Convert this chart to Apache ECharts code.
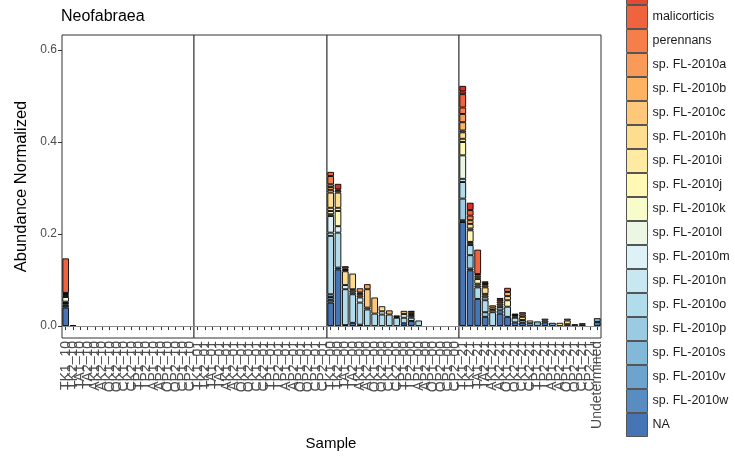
<!DOCTYPE html>
<html><head><meta charset="utf-8">
<script src="https://cdn.jsdelivr.net/npm/echarts@6/dist/echarts.min.js"></script>
<style>html,body{margin:0;padding:0;background:#fff}#c{width:735px;height:456px}</style>
</head><body><div id="c"></div>
<script>
// ---- tick labels (one array per facet panel) ----
const samplesP1 = ['TK1_10','TK2_10','TA1_10','TA2_10','AK1_10','AK2_10','OK1_10','OK2_10','CK1_10','CK2_10','TP1_10','TP2_10','AP1_10','AP2_10','OP1_10','OP2_10','CP1_10','CP2_10'];
const samplesP2 = ['TK1_01','TK2_01','TA1_01','TA2_01','AK1_01','AK2_01','OK1_01','OK2_01','CK1_01','CK2_01','TP1_01','TP2_01','AP1_01','AP2_01','OP1_01','OP2_01','CP1_01','CP2_01'];
const samplesP3 = ['TK1_00','TK2_00','TA1_00','TA2_00','AK1_00','AK2_00','OK1_00','OK2_00','CK1_00','CK2_00','TP1_00','TP2_00','AP1_00','AP2_00','OP1_00','OP2_00','CP1_00','CP2_00'];
const samplesP4 = ['TK1_21','TK2_21','TA1_21','TA2_21','AK1_21','AK2_21','OK1_21','OK2_21','CK1_21','CK2_21','TP1_21','TP2_21','AP1_21','AP2_21','OP1_21','OP2_21','CP1_21','CP2_21','Undetermined'];
const yTicks = [0, 0.2, 0.4, 0.6];

// ---- species (stack order bottom -> top) ----
const speciesNames = ['NA','sp. FL-2010w','sp. FL-2010v','sp. FL-2010s','sp. FL-2010p','sp. FL-2010o','sp. FL-2010n','sp. FL-2010m','sp. FL-2010l','sp. FL-2010k','sp. FL-2010j','sp. FL-2010i','sp. FL-2010h','sp. FL-2010c','sp. FL-2010b','sp. FL-2010a','perennans','malicorticis','kienholzii','actinidiae'];
const speciesColors = ['#4575B4','#598DC2','#6DA4CE','#83B9D8','#9ACBE2','#B1DCEB','#C7E7F1','#DDF2F7','#EBF7E3','#F8FCCB','#FFF9B5','#FEEBA1','#FEDE8E','#FEC779','#FDB361','#FA9A58','#F67E4B','#EF633F','#E34A33','#D73027'];

// ---- values per species: panel1(18) | panel2(18) | panel3(18) | panel4(19) ----
const vNA = [.040,.002,0,0,0,0,0,0,0,0,0,0,0,0,0,0,0,0,
 0,0,0,0,0,0,0,0,0,0,0,0,0,0,0,0,0,0,
 .051,.123,.002,.007,.003,0,0,0,0,0,.006,.011,0,0,0,0,0,0,
 .226,.121,.059,.020,0,.027,.020,.008,.007,0,0,.008,0,0,0,.004,0,0,.009];
const vW = [.004,0,0,0,0,0,0,0,0,0,0,0,0,0,0,0,0,0,
 0,0,0,0,0,0,0,0,0,0,0,0,0,0,0,0,0,0,
 .006,.004,0,0,0,0,0,0,0,0,0,0,0,0,0,0,0,0,
 .004,.004,0,0,0,0,0,0,0,0,0,0,0,0,0,0,0,0,0];
const vV = [.003,0,0,0,0,0,0,0,0,0,0,0,0,0,0,0,0,0,
 0,0,0,0,0,0,0,0,0,0,0,0,0,0,0,0,0,0,
 .006,0,0,0,0,0,0,0,0,0,0,0,0,0,0,0,0,0,
 0,0,0,0,0,.007,0,0,.006,0,0,0,.007,0,0,0,0,0,0];
const vS = [.003,0,0,0,0,0,0,0,0,0,0,0,0,0,0,0,0,0,
 0,0,0,0,0,0,0,0,0,0,0,0,0,0,0,0,0,0,
 .006,0,0,0,0,0,0,0,0,0,0,0,0,0,0,0,0,0,
 0,0,0,0,0,.007,0,0,0,.006,.010,0,0,0,0,0,0,0,.008];
const vP = [.003,0,0,0,0,0,0,0,0,0,0,0,0,0,0,0,0,0,
 0,0,0,0,0,0,0,0,0,0,0,0,0,0,0,0,0,0,
 0,0,0,0,0,0,0,0,0,0,0,0,0,0,0,0,0,0,
 .047,.029,0,.010,0,0,0,0,0,0,0,0,0,0,0,0,0,0,0];
const vO = [0,0,0,0,0,0,0,0,0,0,0,0,0,0,0,0,0,0,
 0,0,0,0,0,0,0,0,0,0,0,0,0,0,0,0,0,0,
 .127,.076,.078,.062,.048,.036,.027,.025,.025,.018,.012,.007,.012,0,0,0,0,0,
 .036,.022,.025,.026,.030,0,.022,.010,0,0,0,0,0,0,0,0,0,0,0];
const vN = [0,0,0,0,0,0,0,0,0,0,0,0,0,0,0,0,0,0,
 0,0,0,0,0,0,0,0,0,0,0,0,0,0,0,0,0,0,
 .007,0,0,.004,0,0,0,0,0,0,0,0,0,0,0,0,0,0,
 .007,.004,0,0,0,0,0,0,0,0,0,0,0,0,0,0,0,0,0];
const vM = [0,0,0,0,0,0,0,0,0,0,0,0,0,0,0,0,0,0,
 0,0,0,0,0,0,0,0,0,0,0,0,0,0,0,0,0,0,
 .036,.014,.009,.004,.011,.004,0,.007,0,0,.008,0,0,0,0,0,0,0,
 0,0,.004,.006,0,0,0,0,0,0,0,0,0,0,0,0,0,0,0];
const vL = [.010,0,0,0,0,0,0,0,0,0,0,0,0,0,0,0,0,0,
 0,0,0,0,0,0,0,0,0,0,0,0,0,0,0,0,0,0,
 0,0,0,0,0,0,0,0,0,0,0,0,0,0,0,0,0,0,
 .051,0,0,0,0,0,0,0,0,0,0,0,0,0,0,0,0,0,0];
const vK = [.003,0,0,0,0,0,0,0,0,0,0,0,0,0,0,0,0,0,
 0,0,0,0,0,0,0,0,0,0,0,0,0,0,0,0,0,0,
 .004,0,0,.003,0,0,0,0,0,.002,0,.004,0,0,0,0,0,0,
 0,.003,.004,0,0,.004,0,.003,0,0,0,.004,0,0,.004,0,.003,0,0];
const vJ = [0,0,0,0,0,0,0,0,0,0,0,0,0,0,0,0,0,0,
 0,0,0,0,0,0,0,0,0,0,0,0,0,0,0,0,0,0,
 .007,.033,0,0,0,0,0,0,0,0,0,0,0,0,0,0,0,0,
 .029,.025,.010,.004,.005,0,.014,0,0,0,0,0,0,0,0,0,0,0,0];
const vI = [0,0,0,0,0,0,0,0,0,0,0,0,0,0,0,0,0,0,
 0,0,0,0,0,0,0,0,0,0,0,0,0,0,0,0,0,0,
 .007,.007,0,0,0,0,0,0,0,0,0,0,0,0,0,0,0,0,
 .007,.004,.004,.004,0,0,0,0,0,0,0,0,0,0,0,0,0,0,0];
const vH = [.002,0,0,0,0,0,0,0,0,0,0,0,0,0,0,0,0,0,
 0,0,0,0,0,0,0,0,0,0,0,0,0,0,0,0,0,0,
 .033,.033,.030,.034,.004,0,0,.011,0,.003,0,.004,0,0,0,0,0,0,
 .014,.010,0,.014,.005,0,.009,0,.007,.006,0,0,0,.007,.008,0,0,0,0];
const vC = [.002,0,0,0,0,0,0,0,0,0,0,0,0,0,0,0,0,0,
 0,0,0,0,0,0,0,0,0,0,0,0,0,0,0,0,0,0,
 .006,0,.003,0,.004,.040,.035,0,0,0,0,.004,0,0,0,0,0,0,
 .004,0,.004,.004,0,.004,0,.003,0,0,0,.004,0,0,.004,0,.003,0,0];
const vB = [.002,0,0,0,0,0,0,0,0,0,0,0,0,0,0,0,0,0,
 0,0,0,0,0,0,0,0,0,0,0,0,0,0,0,0,0,0,
 .006,.004,.003,0,.003,0,0,0,.009,0,.007,.003,0,0,0,0,0,0,
 .018,.008,.003,.003,.005,.004,.009,.003,0,0,0,0,0,0,0,0,0,0,0];
const vA = [0,0,0,0,0,0,0,0,0,0,0,0,0,0,0,0,0,0,
 0,0,0,0,0,0,0,0,0,0,0,0,0,0,0,0,0,0,
 .006,.003,0,0,.009,.011,0,0,0,0,0,0,0,0,0,0,0,0,
 .018,0,0,.003,0,0,0,0,.005,0,0,0,0,0,0,0,0,0,0];
const vPerennans = [0,0,0,0,0,0,0,0,0,0,0,0,0,0,0,0,0,0,
 0,0,0,0,0,0,0,0,0,0,0,0,0,0,0,0,0,0,
 .018,0,0,0,0,0,0,0,0,0,0,0,0,0,0,0,0,0,
 .014,.010,0,.003,0,0,0,0,0,0,0,0,0,0,0,0,0,0,0];
const vMalicorticis = [.075,0,0,0,0,0,0,0,0,0,0,0,0,0,0,0,0,0,
 0,0,0,0,0,0,0,0,0,0,0,0,0,0,0,0,0,0,
 .009,0,0,0,0,0,0,0,0,0,0,0,0,0,0,0,0,0,
 .029,.012,.053,0,0,.004,.009,0,.005,0,0,0,0,0,0,0,0,0,0];
const vKienholzii = [0,0,0,0,0,0,0,0,0,0,0,0,0,0,0,0,0,0,
 0,0,0,0,0,0,0,0,0,0,0,0,0,0,0,0,0,0,
 0,0,0,0,0,0,0,0,0,0,0,0,0,0,0,0,0,0,
 .006,0,0,0,0,0,0,0,0,0,0,0,0,0,0,0,0,0,0];
const vActinidiae = [0,0,0,0,0,0,0,0,0,0,0,0,0,0,0,0,0,0,
 0,0,0,0,0,0,0,0,0,0,0,0,0,0,0,0,0,0,
 0,.012,.005,0,0,0,0,0,0,0,0,0,0,0,0,0,0,0,
 .012,.016,0,0,0,.004,0,0,0,0,0,0,0,0,0,0,0,0,0];

const speciesValues = [vNA,vW,vV,vS,vP,vO,vN,vM,vL,vK,vJ,vI,vH,vC,vB,vA,vPerennans,vMalicorticis,vKienholzii,vActinidiae];
const panels = [samplesP1, samplesP2, samplesP3, samplesP4];

const total = panels.reduce((s,p)=>s+p.length,0);
speciesValues.forEach((a,i)=>{ if(a.length!==total) throw new Error('bad length '+speciesNames[i]+' '+a.length); });

const gridBoxes = [{left:62,width:132},{left:194,width:133},{left:327,width:132},{left:459,width:142}];
const FONT = 'Liberation Sans, Arial, sans-serif';

const grids=[], xAxes=[], yAxes=[], series=[];
let offset = 0;
panels.forEach((cats, g) => {
  grids.push({left:gridBoxes[g].left, width:gridBoxes[g].width, top:35, height:303, show:true, borderColor:'#333', borderWidth:1, backgroundColor:'#fff'});
  xAxes.push({type:'category', gridIndex:g, data:cats,
    axisLine:{show:false},
    axisTick:{show:true, alignWithLabel:true, length:4, lineStyle:{color:'#333'}},
    axisLabel:{interval:0, rotate:90, fontSize:14, color:'#4d4d4d', margin:3, fontFamily:FONT},
    splitLine:{show:false}});
  const y = {type:'value', gridIndex:g, min:-0.026, max:0.6326, splitLine:{show:false}, axisLine:{show:false}};
  if (g===0) {
    y.axisTick = {show:true, length:4, lineStyle:{color:'#333'}, customValues:yTicks};
    y.axisLabel = {show:true, color:'#4d4d4d', fontSize:12, margin:5, fontFamily:FONT, customValues:yTicks, formatter:v=>v.toFixed(1)};
    y.name = 'Abundance Normalized'; y.nameLocation='middle'; y.nameGap=32;
    y.nameTextStyle = {fontSize:16.5, color:'#000', fontFamily:FONT};
  } else {
    y.axisTick = {show:false}; y.axisLabel = {show:false};
  }
  yAxes.push(y);
  speciesNames.forEach((name, s) => {
    const vals = speciesValues[s].slice(offset, offset+cats.length).map(v => v === 0 ? '-' : v);
    const ser = {type:'bar', name, xAxisIndex:g, yAxisIndex:g, stack:'p'+g, data:vals,
      barCategoryGap:'10%', itemStyle:{color:speciesColors[s], borderColor:'#000', borderWidth:0.9}};
    if (s===0) ser.markLine = {silent:true, symbol:'none', label:{show:false}, animation:false,
      lineStyle:{color:'#8c8c8c', width:1, type:'solid'}, data:[{yAxis:0}]};
    series.push(ser);
  });
  offset += cats.length;
});

const chart = echarts.init(document.getElementById('c'), null, {renderer:'canvas'});
chart.setOption({
  animation:false,
  backgroundColor:'#fff',
  textStyle:{fontFamily:FONT},
  title:[
    {text:'Neofabraea', left:61, top:9, padding:0, textStyle:{fontSize:16, fontWeight:'normal', color:'#000', fontFamily:FONT}},
    {text:'Sample', left:331, top:436, padding:0, textAlign:'center', textStyle:{fontSize:15, fontWeight:'normal', color:'#000', fontFamily:FONT}}
  ],
  legend:{orient:'vertical', left:626, top:-43, padding:0, itemWidth:21, itemHeight:23, itemGap:0, icon:'rect',
    selectedMode:false, itemStyle:{borderColor:'#555', borderWidth:1},
    textStyle:{fontSize:12.5, color:'#1a1a1a', fontFamily:FONT},
    data: speciesNames.slice().reverse()},
  grid:grids, xAxis:xAxes, yAxis:yAxes, series
});
</script></body></html>
